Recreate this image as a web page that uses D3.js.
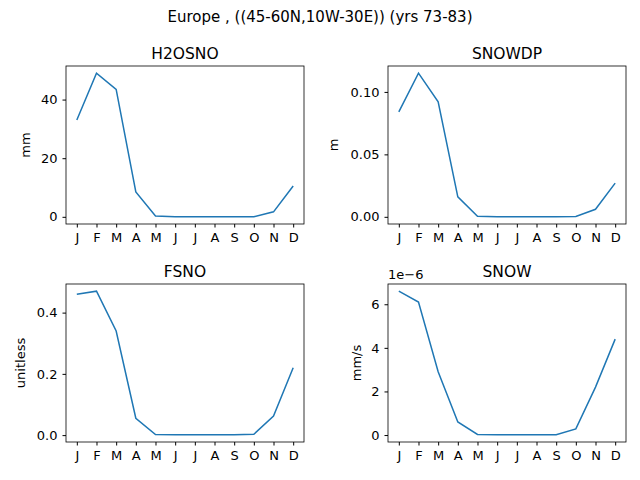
<!DOCTYPE html>
<html><head><meta charset="utf-8">
<script src="https://cdn.jsdelivr.net/npm/d3@7"></script>
<style>body{margin:0;background:#fff} text{font-family:"DejaVu Sans",sans-serif;fill:#000}</style>
</head><body><div id="chart"></div>
<script>
var months = ["J","F","M","A","M","J","J","A","S","O","N","D"];
var h2osno = [33, 49, 43.5, 8.5, 0.3, 0, 0, 0, 0, 0, 1.7, 10.5];
var snowdp = [0.084, 0.115, 0.092, 0.016, 0.0005, 0, 0, 0, 0, 0.0003, 0.006, 0.027];
var fsno = [0.46, 0.47, 0.34, 0.055, 0.002, 0.001, 0.001, 0.001, 0.001, 0.003, 0.062, 0.22];
var snow = [6.6e-6, 6.1e-6, 2.9e-6, 0.6e-6, 0.03e-6, 0.01e-6, 0.01e-6, 0.01e-6, 0.01e-6, 0.28e-6, 2.2e-6, 4.4e-6];

var panels = [
  {title: "H2OSNO", unit: "mm", data: h2osno, ticks: [0, 20, 40], fmt: d3.format("d"), x: 66, y: 66, lx: -36},
  {title: "SNOWDP", unit: "m", data: snowdp, ticks: [0, 0.05, 0.10], fmt: d3.format(".2f"), x: 388, y: 66, lx: -50},
  {title: "FSNO", unit: "unitless", data: fsno, ticks: [0, 0.2, 0.4], fmt: d3.format(".1f"), x: 66, y: 284, lx: -41},
  {title: "SNOW", unit: "mm/s", data: snow, ticks: [0, 2e-6, 4e-6, 6e-6], fmt: function(d){ return Math.round(d*1e6); }, x: 388, y: 284, lx: -27, offset: "1e\u22126"}
];
var pw = 238, ph = 158;

var svg = d3.select("#chart").append("svg").attr("width", 640).attr("height", 480);
svg.append("text").attr("x", 320).attr("y", 22).attr("text-anchor", "middle")
  .style("font-size", "15px").text("Europe , ((45-60N,10W-30E)) (yrs 73-83)");

panels.forEach(function(p) {
  var g = svg.append("g").attr("transform", "translate(" + p.x + "," + p.y + ")");
  var xs = d3.scaleLinear().domain([-0.55, 11.55]).range([0, pw]);
  var ext = d3.extent(p.data), m = (ext[1] - ext[0]) * 0.05;
  var ys = d3.scaleLinear().domain([ext[0] - m, ext[1] + m]).range([ph, 0]);

  g.append("g").attr("transform", "translate(0," + ph + ")")
    .call(d3.axisBottom(xs).tickValues(d3.range(12)).tickFormat(function(i){ return months[i]; }).tickSize(3.5).tickPadding(5))
    .call(function(a){ a.select(".domain").remove(); a.selectAll("text").style("font-size", "13px"); });
  g.append("g")
    .call(d3.axisLeft(ys).tickValues(p.ticks).tickFormat(p.fmt).tickSize(3.5).tickPadding(5))
    .call(function(a){ a.select(".domain").remove(); a.selectAll("text").style("font-size", "13px"); });

  g.append("rect").attr("width", pw).attr("height", ph).attr("fill", "none").attr("stroke", "#000").attr("stroke-width", 0.8);

  g.append("path").datum(p.data).attr("fill", "none").attr("stroke", "#1f77b4").attr("stroke-width", 1.5)
    .attr("d", d3.line().x(function(d, i){ return xs(i); }).y(function(d){ return ys(d); }));

  g.append("text").attr("x", pw / 2).attr("y", -7).attr("text-anchor", "middle").style("font-size", "15.5px").text(p.title);
  g.append("text").attr("transform", "translate(" + p.lx + "," + (ph / 2) + ") rotate(-90)")
    .attr("text-anchor", "middle").style("font-size", "13px").text(p.unit);
  if (p.offset) g.append("text").attr("x", 0).attr("y", -5).style("font-size", "13px").text(p.offset);
});
</script></body></html>
